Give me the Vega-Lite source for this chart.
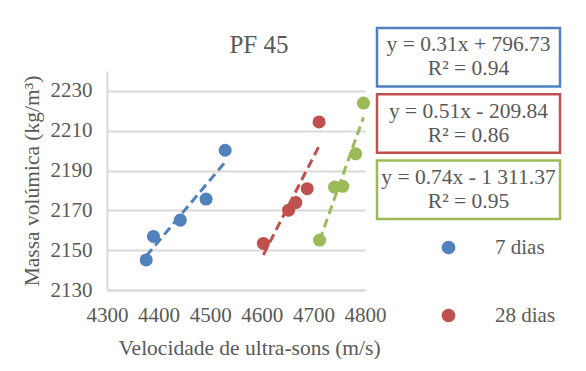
{
  "$schema": "https://vega.github.io/schema/vega-lite/v6.json",
  "background": "white",
  "padding": {"left": 21, "top": 26, "right": 0, "bottom": 0},
  "spacing": 12,
  "bounds": "flush",
  "config": {
    "font": "Liberation Serif",
    "view": {"stroke": null},
    "axis": {
      "labelFont": "Liberation Serif", "labelFontSize": 21, "labelColor": "#595959",
      "titleFont": "Liberation Serif", "titleFontSize": 21.5, "titleFontWeight": "normal", "titleColor": "#595959",
      "domainColor": "#d9d9d9", "domainWidth": 2, "gridColor": "#d9d9d9", "gridWidth": 2, "ticks": false
    }
  },
  "datasets": {
    "pts": [
      {"series": "7 dias", "v": 4376, "m": 2145.1},
      {"series": "7 dias", "v": 4390, "m": 2156.9},
      {"series": "7 dias", "v": 4442, "m": 2165.1},
      {"series": "7 dias", "v": 4492, "m": 2175.7},
      {"series": "7 dias", "v": 4529, "m": 2200.2},
      {"series": "28 dias", "v": 4603, "m": 2153.4},
      {"series": "28 dias", "v": 4652, "m": 2170.1},
      {"series": "28 dias", "v": 4666, "m": 2173.9},
      {"series": "28 dias", "v": 4688, "m": 2180.9},
      {"series": "28 dias", "v": 4711, "m": 2214.4},
      {"series": "90 dias", "v": 4712, "m": 2155.1},
      {"series": "90 dias", "v": 4741, "m": 2181.7},
      {"series": "90 dias", "v": 4757, "m": 2182.1},
      {"series": "90 dias", "v": 4782, "m": 2198.4},
      {"series": "90 dias", "v": 4797, "m": 2223.9}
    ],
    "eqs": [
      {"series": "7 dias", "label": "y = 0.31x + 796.73\nR² = 0.94"},
      {"series": "28 dias", "label": "y = 0.51x - 209.84\nR² = 0.86"},
      {"series": "90 dias", "label": "y = 0.74x - 1 311.37\nR² = 0.95"}
    ]
  },
  "hconcat": [
    {
      "width": 258,
      "height": 219,
      "title": {"text": "PF 45", "fontSize": 25, "font": "Liberation Serif", "fontWeight": "normal", "color": "#595959", "dx": 23, "offset": 13},
      "data": {"name": "pts"},
      "layer": [
        {
          "mark": {"type": "circle", "size": 170, "opacity": 1},
          "encoding": {
            "x": {"field": "v", "type": "quantitative", "scale": {"domain": [4300, 4800], "zero": false, "nice": false},
                  "axis": {"values": [4300, 4400, 4500, 4600, 4700, 4800], "format": "d", "labelOverlap": false, "labelFlush": false, "grid": false,
                           "labelFont": "Liberation Serif", "titleFont": "Liberation Serif", "titleX": 142,
                           "labelPadding": 14, "title": "Velocidade de ultra-sons (m/s)", "titlePadding": 12}},
            "y": {"field": "m", "type": "quantitative", "scale": {"domain": [2130, 2240], "zero": false, "nice": false},
                  "axis": {"values": [2130, 2150, 2170, 2190, 2210, 2230], "format": "d", "labelOverlap": false,
                           "labelFont": "Liberation Serif", "titleFont": "Liberation Serif",
                           "labelPadding": 15, "title": "Massa volúmica (kg/m³)", "titlePadding": 7}},
            "color": {"field": "series", "type": "nominal",
                      "scale": {"domain": ["7 dias", "28 dias", "90 dias"], "range": ["#4F81BD", "#C0504D", "#9BBB59"]},
                      "legend": {"values": ["7 dias", "28 dias"], "title": null, "orient": "none", "legendX": 331, "legendY": 166,
                                 "labelFont": "Liberation Serif", "labelFontSize": 21, "labelColor": "#595959", "symbolSize": 150,
                                 "symbolType": "circle", "rowPadding": 46, "labelOffset": 36}}
          }
        },
        {
          "mark": {"type": "line", "strokeDash": [9, 5], "strokeWidth": 3},
          "transform": [{"regression": "m", "on": "v", "groupby": ["series"]}],
          "encoding": {
            "x": {"field": "v", "type": "quantitative"},
            "y": {"field": "m", "type": "quantitative"},
            "color": {"field": "series", "type": "nominal"}
          }
        }
      ]
    },
    {
      "width": 183,
      "height": 219,
      "data": {"name": "eqs"},
      "layer": [
        {
          "mark": {"type": "rect", "fill": "white", "strokeWidth": 2.5},
          "encoding": {
            "y": {"field": "series", "type": "nominal", "scale": {"domain": ["7 dias", "28 dias", "90 dias"], "range": [-43, 148], "paddingInner": 0.117, "paddingOuter": 0}, "axis": null},
            "stroke": {"field": "series", "type": "nominal", "scale": {"domain": ["7 dias", "28 dias", "90 dias"], "range": ["#4F81BD", "#C0504D", "#9BBB59"]}, "legend": null}
          }
        },
        {
          "mark": {"type": "text", "lineBreak": "\n", "fontSize": 21.5, "lineHeight": 24, "dy": -12, "color": "#595959", "font": "Liberation Serif"},
          "encoding": {
            "y": {"field": "series", "type": "nominal", "axis": null},
            "text": {"field": "label"}
          }
        }
      ]
    }
  ]
}
